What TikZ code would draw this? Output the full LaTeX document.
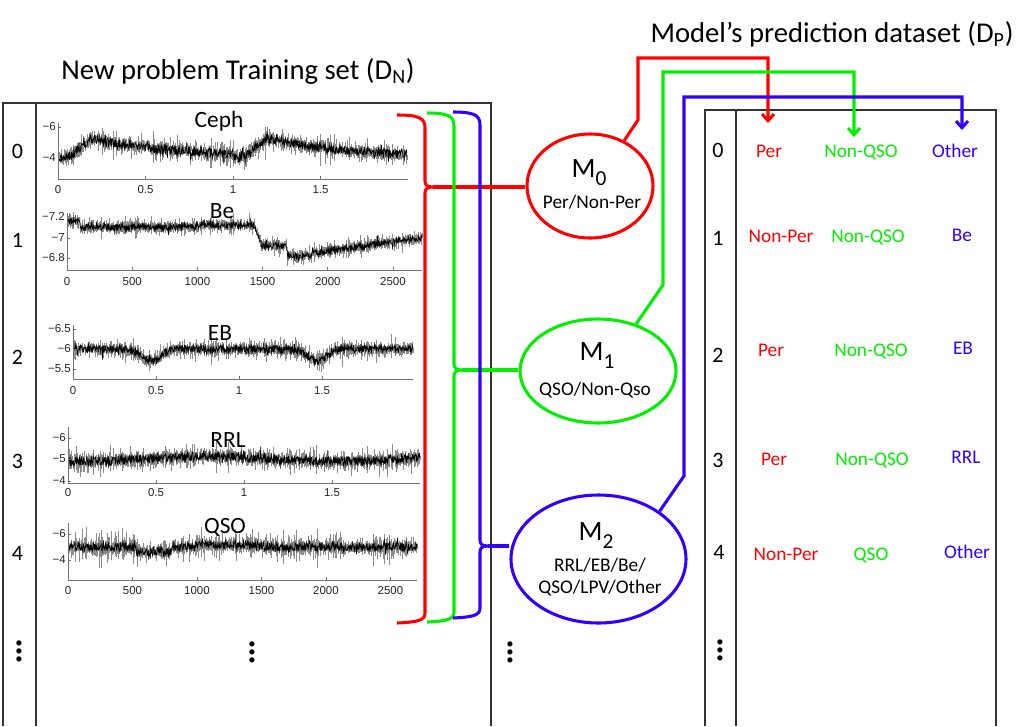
\documentclass[tikz,border=0pt]{standalone}
\usepackage{fontspec}
\setmainfont{Carlito}
\newfontfamily\tickfont{Liberation Sans}
\usetikzlibrary{arrows.meta,shapes.geometric}
\definecolor{cred}{RGB}{255,0,0}
\definecolor{cgreen}{RGB}{0,240,0}
\definecolor{cblue}{RGB}{51,0,255}
\newcommand{\vdd}{\vbox{\baselineskip=6.2pt\lineskiplimit=-20pt\lineskip=0pt\hbox{•}\hbox{•}\hbox{•}}}
\tikzset{
 conn/.style={line width=2.3pt},
 model/.style={ellipse, draw, line width=2.3pt, inner sep=0pt, fill=white},
 tbl/.style={draw=black!80, line width=0.8pt},
 title/.style={font=\fontsize{21.5}{24}\selectfont, inner sep=0pt, anchor=base},
 rownum/.style={font=\fontsize{16.5}{18}\selectfont, inner sep=0pt, anchor=base},
 entry/.style={font=\fontsize{14.5}{16}\selectfont, inner sep=0pt, anchor=base},
 ptitle/.style={font=\fontsize{17.5}{18}\selectfont, inner sep=0pt, anchor=base},
 tick/.style={font=\tickfont\fontsize{8.6}{9}\selectfont, inner sep=0pt, text=black!85},
 axisl/.style={draw=black!55, line width=0.6pt},
 dat/.style={black, line width=0.5pt},
 ebar/.style={black!45, line width=0.45pt},
 mbig/.style={font=\fontsize{21}{22}\selectfont, inner sep=0pt, anchor=base},
 msub/.style={font=\fontsize{14.5}{16}\selectfont, inner sep=0pt, anchor=base},
 arr/.style={-{Straight Barb[length=5pt,width=9pt]}},
 dots/.style={inner sep=0pt, font=\fontsize{11}{11}\selectfont}
}
% light curve: #1 fn, #2 xstart, #3 xend, #4 clip top, #5 axis y, #6 noise, #7 bar amp
\newcommand{\lcplot}[7]{%
 \begin{scope}
 \clip (#2-1,#4) rectangle (#3+1,#5-1);
 \foreach \xx in {#2,#2.5,...,#3}{%
   \pgfmathsetmacro\lcy{#1(\xx)+#6*rand}%
   \pgfmathsetmacro\lce{2+#7*abs(rand*rand*rand)}%
   \draw[ebar] (\xx,\lcy-\lce) -- (\xx,\lcy+\lce);}
 \draw[dat] plot[domain=#2:#3,samples=900] (\x,{#1(\x)+#6*rand+16*rand*rand*rand*rand*rand});
 \end{scope}}
\begin{document}
\begin{tikzpicture}[x=0.75pt,y=-0.75pt,
  declare function={
    lcph(\x)=frac((\x-58)/175);
    lcceph(\x)=157-19*min(1,max(0,(lcph(\x)-0.07)/0.12))*exp(-2.3*max(0,lcph(\x)-0.19));
    lcbe(\x)=ifthenelse(\x<80,221,ifthenelse(\x<255,227-2*(\x>200),ifthenelse(\x<262,227+19*(\x-255)/7,ifthenelse(\x<287,246,ifthenelse(\x<312,256,253-15*(\x-312)/110)))));
    lceb(\x)=349+12*exp(-min(((\x-151)/13)*((\x-151)/13),30))+12*exp(-min(((\x-317)/13)*((\x-317)/13),30));
    lcrrl(\x)=459+2.5*cos(1.4*(\x-80));
    lcqso(\x)=547+5*(\x>136)*(\x<172)-2*(\x>195)*(\x<262);
  }]
\pgfmathsetseed{4242}
\fill[white] (0,0) rectangle (1018,726);
\useasboundingbox (0,0) rectangle (1018,726);

% titles
\node[title] (tleft) at (238,79) {New problem Training set (D\textsubscript{N})};
\node[title] (tright) at (832,42) {Model’s prediction dataset (D\textsubscript{P})};

% tables
\draw[tbl] (3,726) -- (3,103) -- (491,103) -- (491,726);
\draw[tbl] (36,103) -- (36,726);
\draw[tbl] (705,726) -- (705,110) -- (996,110) -- (996,726);
\draw[tbl] (736,110) -- (736,726);

% left row numbers
\node[rownum] (l0) at (17.5,158) {0};
\node[rownum] (l1) at (17.5,247) {1};
\node[rownum] (l2) at (17.5,364) {2};
\node[rownum] (l3) at (17.5,468) {3};
\node[rownum] (l4) at (17.5,560) {4};
\node[dots] (ld) at (19,652) {\vdd};
\node[dots] (pd) at (252,653) {\vdd};
\node[dots] (md) at (510,653) {\vdd};

% right row numbers
\node[rownum] (r0) at (718,157) {0};
\node[rownum] (r1) at (718,245) {1};
\node[rownum] (r2) at (718,362) {2};
\node[rownum] (r3) at (718,467) {3};
\node[rownum] (r4) at (719,559) {4};
\node[dots] (rd) at (720,651) {\vdd};

% ---------- light curves ----------
% Ceph
\lcplot{lcceph}{59}{407}{116}{179}{4.5}{18}
\draw[axisl] (58,123) -- (58,179) -- (408,179);
\foreach \yy/\lab [count=\k] in {127/−6,158/−4}{\draw[axisl] (58,\yy) -- (61,\yy); \node[tick,anchor=east] (c0y\k) at (56,\yy) {\lab};}
\foreach \xx/\lab [count=\k] in {58/0,145.5/0.5,233/1,320.5/1.5}{\draw[axisl] (\xx,179) -- (\xx,176); \node[tick] (c0x\k) at (\xx,190) {\lab};}
\node[ptitle] (tceph) at (219,127) {Ceph};
% Be
\lcplot{lcbe}{68}{422}{206}{270}{3}{12}
\draw[axisl] (67,213) -- (67,270) -- (422,270);
\foreach \yy/\lab [count=\k] in {216/−7.2,238/−7,258/−6.8}{\draw[axisl] (67,\yy) -- (70,\yy); \node[tick,anchor=east] (c1y\k) at (65,\yy) {\lab};}
\foreach \xx/\lab [count=\k] in {67/0,132.2/500,197.4/1000,262.6/1500,327.8/2000,393/2500}{\draw[axisl] (\xx,270) -- (\xx,267); \node[tick] (c1x\k) at (\xx,282) {\lab};}
\node[ptitle] (tbe) at (222,218) {Be};
% EB
\lcplot{lceb}{74}{413}{318}{379}{3.5}{14}
\draw[axisl] (73,325) -- (73,379) -- (413,379);
\foreach \yy/\lab [count=\k] in {329/−6.5,349/−6,369/−5.5}{\draw[axisl] (73,\yy) -- (76,\yy); \node[tick,anchor=east] (c2y\k) at (71,\yy) {\lab};}
\foreach \xx/\lab [count=\k] in {73/0,156/0.5,239/1,322/1.5}{\draw[axisl] (\xx,379) -- (\xx,376); \node[tick] (c2x\k) at (\xx,391) {\lab};}
\node[ptitle] (teb) at (220,340) {EB};
% RRL
\lcplot{lcrrl}{69}{420}{420}{483}{4.5}{16}
\draw[axisl] (68,427) -- (68,483) -- (420,483);
\foreach \yy/\lab [count=\k] in {438/−6,459/−5,481/−4}{\draw[axisl] (68,\yy) -- (71,\yy); \node[tick,anchor=east] (c3y\k) at (66,\yy) {\lab};}
\foreach \xx/\lab [count=\k] in {68/0,156/0.5,244/1,332/1.5}{\draw[axisl] (\xx,483) -- (\xx,480); \node[tick] (c3x\k) at (\xx,493) {\lab};}
\node[ptitle] (trrl) at (228,447) {RRL};
% QSO
\lcplot{lcqso}{69}{417}{516}{580}{4}{22}
\draw[axisl] (68,523) -- (68,580) -- (417,580);
\foreach \yy/\lab [count=\k] in {534/−6,560/−4}{\draw[axisl] (68,\yy) -- (71,\yy); \node[tick,anchor=east] (c4y\k) at (66,\yy) {\lab};}
\foreach \xx/\lab [count=\k] in {68/0,132.5/500,197/1000,261.5/1500,326/2000,390.5/2500}{\draw[axisl] (\xx,580) -- (\xx,577); \node[tick] (c4x\k) at (\xx,591) {\lab};}
\node[ptitle] (tqso) at (225,533) {QSO};

% ---------- models ----------
\node[model, draw=cred, minimum width=94.5pt, minimum height=78pt] (m0) at (590,186) {};
\node[model, draw=cgreen, minimum width=117pt, minimum height=78pt] (m1) at (598,371) {};
\node[model, draw=cblue, minimum width=131.25pt, minimum height=96pt] (m2) at (598.5,559) {};
\node[mbig] (m0t) at (589,177) {M\raisebox{-6pt}{\fontsize{16}{16}\selectfont 0}};
\node[msub] (m0s) at (592,208) {Per/Non-Per};
\node[mbig] (m1t) at (597,360) {M\raisebox{-6pt}{\fontsize{16}{16}\selectfont 1}};
\node[msub] (m1s) at (595,395) {QSO/Non-Qso};
\node[mbig] (m2t) at (596,540) {M\raisebox{-6pt}{\fontsize{16}{16}\selectfont 2}};
\node[msub] (m2s) at (600,571) {RRL/EB/Be/};
\node[msub] (m2u) at (600,593) {QSO/LPV/Other};

% ---------- brackets ----------
\coordinate (rtip) at (433,187);
\coordinate (gtip) at (462,370);
\coordinate (btip) at (488,546);
\draw[conn,cred] (397,115) .. controls (419,115) and (425,118) .. (425,128) -- (425,181)
  .. controls (425,185) and (427,187) .. (rtip) .. controls (427,187) and (425,189) .. (425,193)
  -- (425,613) .. controls (425,620) and (419,622) .. (397,623);
\draw[conn,cred] (rtip) -- (rtip -| m0.west);
\draw[conn,cgreen] (427,113) .. controls (448,113) and (454,116) .. (454,126) -- (454,364)
  .. controls (454,368) and (456,370) .. (gtip) .. controls (456,370) and (454,372) .. (454,376)
  -- (454,612) .. controls (454,619) and (448,621) .. (427,622);
\draw[conn,cgreen] (gtip) -- (gtip -| m1.west);
\draw[conn,cblue] (453,112) .. controls (474,112) and (480,115) .. (480,125) -- (480,540)
  .. controls (480,544) and (482,546) .. (btip) .. controls (482,546) and (480,548) .. (480,552)
  -- (480,608) .. controls (480,615) and (474,617) .. (453,618);
\draw[conn,cblue] (btip) -- (btip -| m2.west);

% ---------- right table entries ----------
\node[entry,text=cred] (e00) at (769,157) {Per};
\node[entry,text=cgreen] (e01) at (861,157) {Non-QSO};
\node[entry,text=cblue] (e02) at (955,157) {Other};
\node[entry,text=cred] (e10) at (781,242) {Non-Per};
\node[entry,text=cgreen] (e11) at (868,242) {Non-QSO};
\node[entry,text=cblue] (e12) at (962,241) {Be};
\node[entry,text=cred] (e20) at (771,356) {Per};
\node[entry,text=cgreen] (e21) at (871,356) {Non-QSO};
\node[entry,text=cblue] (e22) at (963,354) {EB};
\node[entry,text=cred] (e30) at (774,465) {Per};
\node[entry,text=cgreen] (e31) at (872,465) {Non-QSO};
\node[entry,text=cblue] (e32) at (966,463) {RRL};
\node[entry,text=cred] (e40) at (786,560) {Non-Per};
\node[entry,text=cgreen] (e41) at (871,560) {QSO};
\node[entry,text=cblue] (e42) at (967,558) {Other};

% ---------- output connectors ----------
\coordinate (tipr) at (768,123);
\coordinate (tipg) at (854,137);
\coordinate (tipb) at (962,130);
\draw[conn,cred,arr] (m0.53) -- (638,120) -- (638,58) -| (tipr);
\draw[conn,cgreen,arr] (m1.51) -- (663,285) -- (663,72) -| (tipg);
\draw[conn,cblue,arr] (m2.38) -- (684,476) -- (684,97) -| (tipb);
\end{tikzpicture}
\end{document}
